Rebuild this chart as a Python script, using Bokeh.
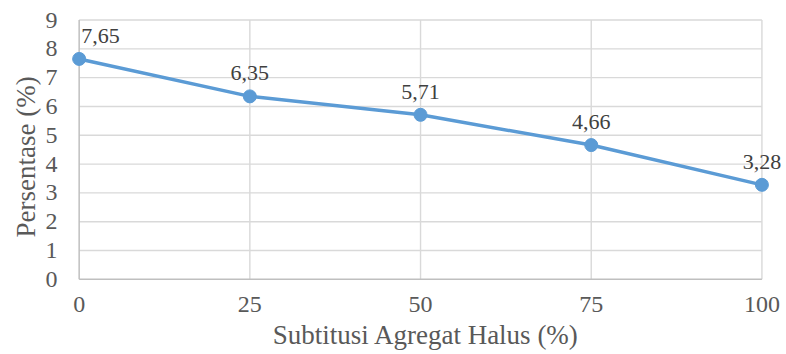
from bokeh.plotting import figure
from bokeh.models import Range1d, FixedTicker, Label, Title
from bokeh.embed import file_html
from bokeh.resources import INLINE

# Fine aggregate substitution (%) and the resulting percentage
substitution = [0, 25, 50, 75, 100]
percentage = [7.65, 6.35, 5.71, 4.66, 3.28]
value_labels = ["7,65", "6,35", "5,71", "4,66", "3,28"]

x_ticks = [0, 25, 50, 75, 100]
y_ticks = [0, 1, 2, 3, 4, 5, 6, 7, 8, 9]

FONT = "'Liberation Serif', 'Times New Roman', serif"
TEXT = "#595959"
BLUE = "#5B9BD5"
GRID = "#D9D9D9"
AXIS = "#BFBFBF"

p = figure(
    width=786, height=354,
    x_range=Range1d(-2, 103.6), y_range=Range1d(-0.04, 9.4),
    min_border_left=65, min_border_right=0,
    min_border_top=8, min_border_bottom=74,
    output_backend="svg", toolbar_location=None,
)
p.outline_line_color = None
p.background_fill_color = "white"
p.border_fill_color = "white"
p.xgrid.grid_line_color = None
p.ygrid.grid_line_color = None

# gridlines limited to the data extent
p.segment(x0=x_ticks[1:], y0=[y_ticks[0]] * 4, x1=x_ticks[1:], y1=[y_ticks[-1]] * 4,
          line_color=GRID, line_width=1.4)
p.segment(x0=[x_ticks[0]] * 9, y0=y_ticks[1:], x1=[x_ticks[-1]] * 9, y1=y_ticks[1:],
          line_color=GRID, line_width=1.4)
# axis lines
p.segment(x0=[x_ticks[0]], y0=[y_ticks[0]], x1=[x_ticks[0]], y1=[y_ticks[-1]],
          line_color=AXIS, line_width=1.5)
p.segment(x0=[x_ticks[0]], y0=[y_ticks[0]], x1=[x_ticks[-1]], y1=[y_ticks[0]],
          line_color=AXIS, line_width=1.5)

# series
p.line(substitution, percentage, line_color=BLUE, line_width=3.5)
p.scatter(substitution, percentage, size=13, fill_color=BLUE, line_color=BLUE)

# value labels above each point
for i, (xv, yv, t) in enumerate(zip(substitution, percentage, value_labels)):
    first = i == 0
    p.add_layout(Label(
        x=xv, y=yv, text=t,
        x_offset=2 if first else 0, y_offset=23,
        text_align="left" if first else "center",
        text_baseline="alphabetic",
        text_font=FONT, text_font_size="22px", text_color="#404040",
    ))

for ax in (p.xaxis[0], p.yaxis[0]):
    ax.axis_line_color = None
    ax.major_tick_line_color = None
    ax.minor_tick_line_color = None
    ax.major_tick_in = 0
    ax.major_tick_out = 0
    ax.major_label_text_font = FONT
    ax.major_label_text_font_size = "24px"
    ax.major_label_text_color = TEXT
    ax.axis_label_text_font = FONT
    ax.axis_label_text_font_size = "27px"
    ax.axis_label_text_font_style = "normal"
    ax.axis_label_text_color = TEXT

p.xaxis.ticker = FixedTicker(ticks=x_ticks)
p.yaxis.ticker = FixedTicker(ticks=y_ticks)
p.xaxis.axis_label = "Subtitusi Agregat Halus (%)"
p.xaxis.major_label_standoff = 16
p.yaxis.major_label_standoff = 8
p.xaxis.axis_label_standoff = 5

# vertical axis title, placed as a side title so it can sit below centre
p.add_layout(Title(
    text="Persentase (%)", align="left", offset=43, standoff=4,
    text_font=FONT, text_font_size="27px", text_font_style="normal",
    text_color=TEXT,
), "left")

open("out.html", "w").write(file_html(p, INLINE))
